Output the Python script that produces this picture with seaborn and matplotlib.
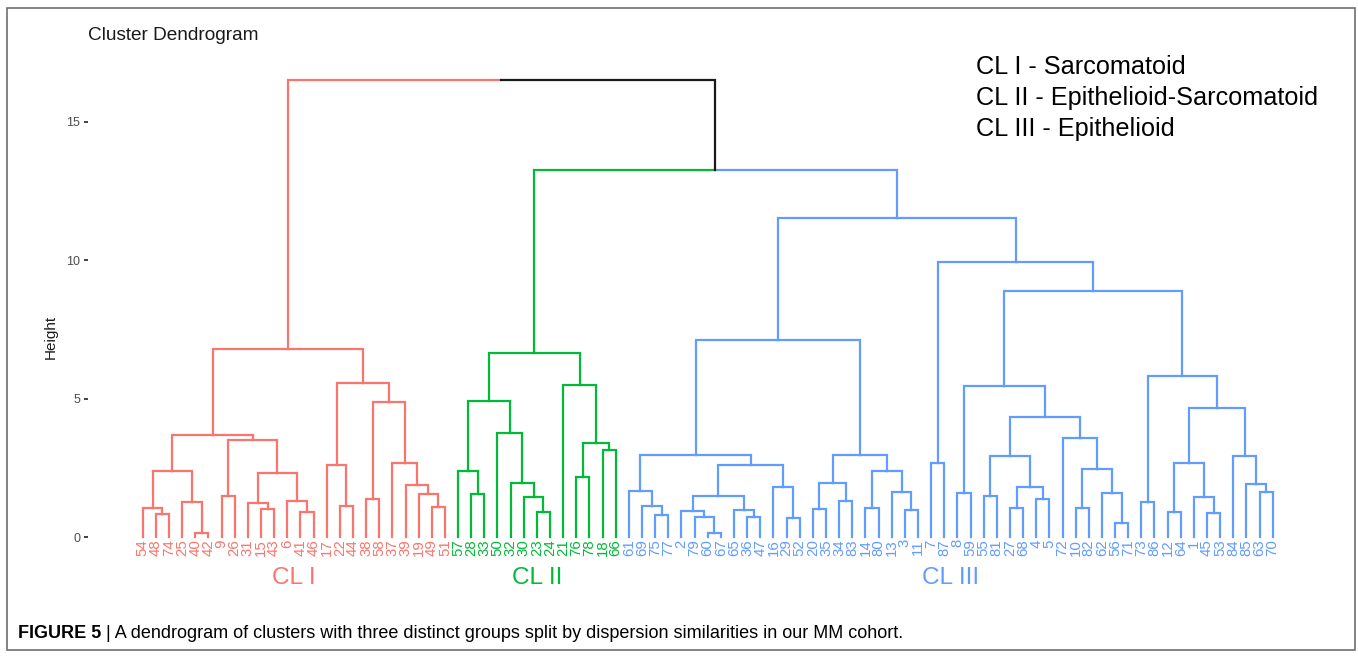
import matplotlib
matplotlib.use("Agg")
import numpy as np
import pandas as pd
import matplotlib.pyplot as plt
import seaborn as sns
from matplotlib.patches import Rectangle

# ------------------------------------------------------------------ data
# Each merge is (left, right, height); integers are sample numbers (leaves).
cl1_tree = (
    (((54, (48, 74, 0.84), 1.06), (25, (40, 42, 0.15), 1.26), 2.38),
     ((9, 26, 1.47), ((31, (15, 43, 1.00), 1.23), (6, (41, 46, 0.90), 1.31), 2.33), 3.50),
     3.69),
    ((17, (22, 44, 1.12), 2.60),
     ((38, 58, 1.37), (37, (39, (19, (49, 51, 1.07), 1.55), 1.88), 2.69), 4.89),
     5.57),
    6.80)

cl2_tree = (
    ((57, (28, 33, 1.55), 2.40), (50, (32, (30, (23, 24, 0.89), 1.43), 1.96), 3.77), 4.93),
    (21, ((76, 78, 2.16), (18, 66, 3.14), 3.39), 5.50),
    6.65)

cl3_tree = (
    (((61, (69, (75, 77, 0.80), 1.12), 1.66),
      (((2, (79, (60, 67, 0.13), 0.73), 0.94), (65, (36, 47, 0.71), 0.98), 1.48),
       (16, (29, 52, 0.68), 1.80), 2.60),
      2.97),
     (((20, 35, 1.01), (34, 83, 1.31), 1.94),
      ((14, 80, 1.06), (13, (3, 11, 0.98), 1.64), 2.39),
      2.95),
     7.12),
    ((7, 87, 2.66),
     (((8, 59, 1.60),
       (((55, 81, 1.48), ((27, 68, 1.04), (4, 5, 1.37), 1.80), 2.93),
        (72, ((10, 82, 1.06), (62, (56, 71, 0.52), 1.58), 2.44), 3.57),
        4.33),
       5.47),
      ((73, 86, 1.25),
       (((12, 64, 0.92), (1, (45, 53, 0.86), 1.43), 2.66),
        (84, (85, (63, 70, 1.64), 1.92), 2.94),
        4.67),
       5.82),
      8.89),
     9.93),
    11.52)

upper_heights = [13.26, 16.50]          # CL II + CL III merge, then root
cluster_names = ["CL I", "CL II", "CL III"]
cluster_colors = ["#F8766D", "#00BA38", "#619CFF"]
legend_lines = ["CL I - Sarcomatoid",
                "CL II - Epithelioid-Sarcomatoid",
                "CL III - Epithelioid"]
y_ticks = [0, 5, 10, 15]
caption_bold = "FIGURE 5"
caption_text = "| A dendrogram of clusters with three distinct groups split by dispersion similarities in our MM cohort."

# ------------------------------------------------------------------ tree layout
full_tree = (cl1_tree, (cl2_tree, cl3_tree, upper_heights[0]), upper_heights[1])
cluster_of = {id(cl1_tree): 0, id(cl2_tree): 1, id(cl3_tree): 2}

seg_rows = []
leaf_rows = []
counter = [0]
seg_id = [0]


def layout(node, group):
    if id(node) in cluster_of:
        group = cluster_names[cluster_of[id(node)]]
    if isinstance(node, int):
        x = counter[0]
        counter[0] += 1
        leaf_rows.append({"label": str(node), "x": x, "group": group})
        return x, 0.0, group
    left, right, h = node
    children = [layout(left, group), layout(right, group)]
    xm = (children[0][0] + children[1][0]) / 2.0
    for cx, ch, cg in children:
        for px, py in [(xm, h), (cx, h), (cx, ch)]:
            seg_rows.append({"seg": seg_id[0], "x": px, "y": py, "group": cg})
        seg_id[0] += 1
    return xm, h, group


layout(full_tree, "upper")
segs = pd.DataFrame(seg_rows)
leaves = pd.DataFrame(leaf_rows)

palette = dict(zip(cluster_names, cluster_colors))
palette["upper"] = "#1a1a1a"

# ------------------------------------------------------------------ figure
sns.set_theme(style="white")
plt.rcParams["font.family"] = ["Liberation Sans", "DejaVu Sans"]

W, H = 1358, 656
fig = plt.figure(figsize=(W / 100, H / 100), dpi=100)
fig.patch.set_facecolor("white")


def fx(px):
    return px / W


def fy(py):
    return 1 - py / H


# axes placement (pixels from top-left)
ax_l, ax_r, ax_t, ax_b = 88, 1330, 40, 560
ax = fig.add_axes([fx(ax_l), fy(ax_b), fx(ax_r - ax_l), (ax_b - ax_t) / H])
ax.set_facecolor("white")

# leaf 0 at x=142.7 px, spacing 13.14 px; height 0 at y=537 px, 27.67 px/unit
x0_px, dx_px = 142.7, 13.14
y0_px, dy_px = 537.0, 27.67
ax.set_xlim((ax_l - x0_px) / dx_px, (ax_r - x0_px) / dx_px)
ax.set_ylim((y0_px - ax_b) / dy_px, (y0_px - ax_t) / dy_px)

sns.lineplot(data=segs, x="x", y="y", units="seg", hue="group", palette=palette,
             estimator=None, sort=False, legend=False, linewidth=1.6,
             solid_joinstyle="miter", solid_capstyle="projecting", ax=ax)

for _, r in leaves.iterrows():
    ax.text(r["x"], -0.08, r["label"], rotation=90, ha="center", va="top",
            fontsize=10.8, color=palette[r["group"]], clip_on=False)

for name, color in zip(cluster_names, cluster_colors):
    xs = leaves.loc[leaves["group"] == name, "x"]
    ax.text((xs.min() + xs.max()) / 2, -1.48, name, ha="center", va="center",
            fontsize=17.6, color=color, clip_on=False)

ax.set_xticks([])
ax.set_yticks(y_ticks)
ax.set_yticklabels([str(t) for t in y_ticks])
ax.tick_params(axis="y", left=True, length=3, width=1.3, color="#333333",
               labelcolor="#4D4D4D", labelsize=9, pad=2.5)
for s in ax.spines.values():
    s.set_visible(False)
ax.set_xlabel("")
ax.set_ylabel("")

fig.text(fx(51), fy(337), "Height", rotation=90, ha="center", va="center",
         fontsize=11, color="#1a1a1a")
fig.text(fx(88), fy(35), "Cluster Dendrogram", ha="left", va="center",
         fontsize=13.7, color="#1a1a1a")

for i, line in enumerate(legend_lines):
    fig.text(fx(976), fy(67 + 31 * i), line, ha="left", va="center",
             fontsize=18.2, color="black")

t1 = fig.text(fx(18), fy(634), caption_bold + " ", ha="left", va="center",
              fontsize=13, fontweight="bold", color="black")
ax.annotate(caption_text, xy=(1, 0.5), xycoords=t1, ha="left", va="center",
            fontsize=13, color="black", annotation_clip=False)

fig.patches.append(Rectangle((fx(7), fy(650)), fx(1355 - 7), (650 - 8) / H,
                             transform=fig.transFigure, fill=False,
                             edgecolor="#6e6e6e", linewidth=1.2))

fig.savefig("out.png", dpi=100, facecolor="white")
